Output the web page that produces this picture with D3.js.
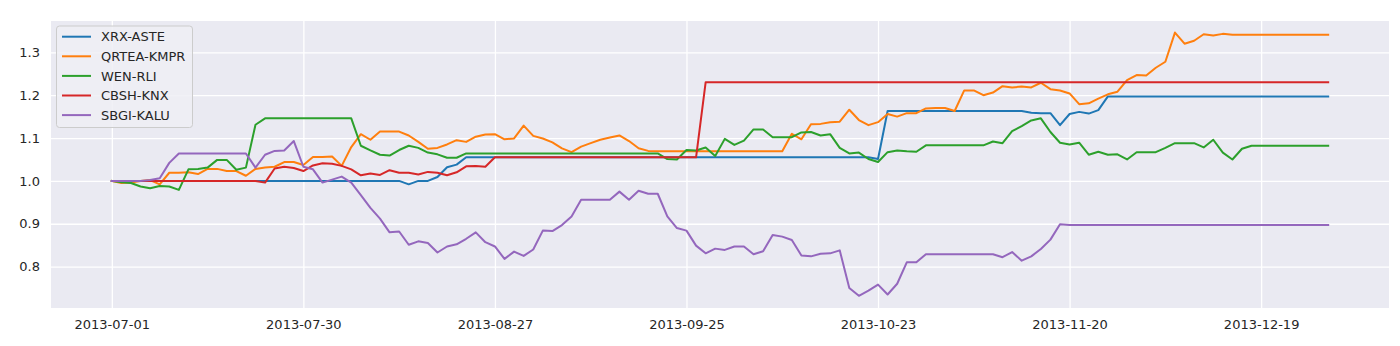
<!DOCTYPE html>
<html>
<head>
<meta charset="utf-8">
<script src="https://cdn.jsdelivr.net/npm/d3@7"></script>
<style>
  body { margin: 0; background: #ffffff; }
  svg { display: block; font-family: "DejaVu Sans", sans-serif; }
</style>
</head>
<body>
<svg id="chart" width="1400" height="346"></svg>
<script>
// ---------------- data ----------------
const seriesNames = ["XRX-ASTE", "QRTEA-KMPR", "WEN-RLI", "CBSH-KNX", "SBGI-KALU"];

const xrxAste = [
  1.000,1.000,1.000,1.000,1.000,1.000,1.000,1.000,1.000,1.000,
  1.000,1.000,1.000,1.000,1.000,1.000,1.000,1.000,1.000,1.000,
  1.000,1.000,1.000,1.000,1.000,1.000,1.000,1.000,1.000,1.000,
  1.000,0.992,1.000,1.000,1.009,1.032,1.038,1.055,1.055,1.055,
  1.055,1.055,1.055,1.055,1.055,1.055,1.055,1.055,1.055,1.055,
  1.055,1.055,1.055,1.055,1.055,1.055,1.055,1.055,1.055,1.055,
  1.055,1.055,1.055,1.055,1.055,1.055,1.055,1.055,1.055,1.055,
  1.055,1.055,1.055,1.055,1.055,1.055,1.055,1.055,1.055,1.055,
  1.051,1.163,1.163,1.163,1.163,1.163,1.163,1.163,1.163,1.163,
  1.163,1.163,1.163,1.163,1.163,1.163,1.159,1.158,1.158,1.130,
  1.156,1.161,1.157,1.165,1.197,1.197,1.197,1.197,1.197,1.197,
  1.197,1.197,1.197,1.197,1.197,1.197,1.197,1.197,1.197,1.197,
  1.197,1.197,1.197,1.197,1.197,1.197,1.197,1.197
];

const qrteaKmpr = [
  1.000,0.995,0.996,1.000,1.002,0.992,1.019,1.019,1.020,1.016,
  1.028,1.028,1.023,1.023,1.012,1.028,1.031,1.033,1.044,1.044,
  1.037,1.056,1.056,1.057,1.035,1.079,1.109,1.096,1.115,1.115,
  1.115,1.106,1.091,1.075,1.077,1.085,1.095,1.091,1.103,1.108,
  1.109,1.097,1.099,1.129,1.105,1.099,1.090,1.076,1.067,1.080,
  1.088,1.096,1.101,1.106,1.093,1.076,1.070,1.069,1.069,1.069,
  1.069,1.069,1.069,1.069,1.069,1.069,1.069,1.069,1.069,1.069,
  1.069,1.110,1.097,1.132,1.133,1.137,1.138,1.166,1.142,1.130,
  1.137,1.156,1.150,1.158,1.158,1.169,1.170,1.170,1.163,1.211,
  1.211,1.200,1.206,1.221,1.218,1.220,1.218,1.229,1.214,1.211,
  1.204,1.179,1.181,1.192,1.202,1.208,1.235,1.247,1.246,1.264,
  1.278,1.346,1.320,1.327,1.342,1.339,1.343,1.341,1.341,1.341,
  1.341,1.341,1.341,1.341,1.341,1.341,1.341,1.341
];

const wenRli = [
  1.000,0.997,0.995,0.987,0.983,0.988,0.987,0.979,1.027,1.028,
  1.031,1.049,1.049,1.026,1.031,1.131,1.146,1.146,1.146,1.146,
  1.146,1.146,1.146,1.146,1.146,1.146,1.082,1.071,1.061,1.059,
  1.072,1.082,1.077,1.066,1.062,1.054,1.054,1.064,1.064,1.064,
  1.064,1.064,1.064,1.064,1.064,1.064,1.064,1.064,1.064,1.064,
  1.064,1.064,1.064,1.064,1.064,1.064,1.064,1.064,1.051,1.050,
  1.072,1.071,1.078,1.058,1.098,1.084,1.094,1.120,1.120,1.102,
  1.102,1.102,1.113,1.114,1.106,1.109,1.077,1.064,1.066,1.051,
  1.044,1.067,1.071,1.069,1.068,1.083,1.083,1.083,1.083,1.083,
  1.083,1.083,1.092,1.088,1.116,1.128,1.141,1.146,1.114,1.089,
  1.085,1.089,1.061,1.068,1.061,1.062,1.050,1.067,1.067,1.067,
  1.077,1.088,1.088,1.088,1.078,1.096,1.066,1.050,1.075,1.082,
  1.082,1.082,1.082,1.082,1.082,1.082,1.082,1.082
];

const cbshKnx = [
  1.000,1.000,1.000,1.000,1.000,1.000,1.000,1.000,1.000,1.000,
  1.000,1.000,1.000,1.000,1.000,1.000,0.996,1.029,1.033,1.030,
  1.023,1.036,1.041,1.040,1.035,1.027,1.013,1.017,1.014,1.025,
  1.019,1.019,1.015,1.021,1.019,1.013,1.020,1.034,1.035,1.033,
  1.055,1.055,1.055,1.055,1.055,1.055,1.055,1.055,1.055,1.055,
  1.055,1.055,1.055,1.055,1.055,1.055,1.055,1.055,1.055,1.055,
  1.055,1.055,1.230,1.230,1.230,1.230,1.230,1.230,1.230,1.230,
  1.230,1.230,1.230,1.230,1.230,1.230,1.230,1.230,1.230,1.230,
  1.230,1.230,1.230,1.230,1.230,1.230,1.230,1.230,1.230,1.230,
  1.230,1.230,1.230,1.230,1.230,1.230,1.230,1.230,1.230,1.230,
  1.230,1.230,1.230,1.230,1.230,1.230,1.230,1.230,1.230,1.230,
  1.230,1.230,1.230,1.230,1.230,1.230,1.230,1.230,1.230,1.230,
  1.230,1.230,1.230,1.230,1.230,1.230,1.230,1.230
];

const sbgiKalu = [
  1.000,1.000,1.000,1.000,1.002,1.006,1.042,1.064,1.064,1.064,
  1.064,1.064,1.064,1.064,1.064,1.031,1.061,1.070,1.071,1.093,
  1.033,1.027,0.996,1.003,1.010,0.996,0.967,0.937,0.912,0.880,
  0.882,0.851,0.859,0.855,0.833,0.847,0.852,0.865,0.880,0.857,
  0.847,0.818,0.835,0.825,0.840,0.884,0.883,0.897,0.917,0.956,
  0.956,0.956,0.956,0.975,0.956,0.977,0.970,0.970,0.917,0.890,
  0.884,0.849,0.831,0.842,0.839,0.847,0.847,0.829,0.836,0.874,
  0.870,0.862,0.826,0.824,0.830,0.831,0.838,0.750,0.732,0.744,
  0.758,0.735,0.760,0.810,0.810,0.829,0.829,0.829,0.829,0.829,
  0.829,0.829,0.829,0.822,0.834,0.814,0.824,0.841,0.863,0.899,
  0.897,0.897,0.897,0.897,0.897,0.897,0.897,0.897,0.897,0.897,
  0.897,0.897,0.897,0.897,0.897,0.897,0.897,0.897,0.897,0.897,
  0.897,0.897,0.897,0.897,0.897,0.897,0.897,0.897
];

// x axis: trading-day index, labelled every 20 sessions
const xTickIndex = [0, 20, 40, 60, 80, 100, 120];
const xTickLabels = ["2013-07-01", "2013-07-30", "2013-08-27", "2013-09-25",
                     "2013-10-23", "2013-11-20", "2013-12-19"];
const yTickValues = [0.8, 0.9, 1.0, 1.1, 1.2, 1.3];

// ---------------- layout / style ----------------
const seriesValues = [xrxAste, qrteaKmpr, wenRli, cbshKnx, sbgiKalu];
const colors = ["#1f77b4", "#ff7f0e", "#2ca02c", "#d62728", "#9467bd"];

const plot = { left: 51, right: 1389, top: 21, bottom: 308 };
const svg = d3.select("#chart");

const n = xrxAste.length;
const x = d3.scaleLinear()
  .domain([-(n - 1) * 0.05, (n - 1) * 1.05])
  .range([plot.left, plot.right]);
const y = d3.scaleLinear()
  .domain([0.7035, 1.373])
  .range([plot.bottom, plot.top]);

// background
svg.append("rect")
  .attr("x", plot.left).attr("y", plot.top)
  .attr("width", plot.right - plot.left).attr("height", plot.bottom - plot.top)
  .attr("fill", "#eaeaf2");

// x axis + vertical grid
const gx = svg.append("g")
  .attr("transform", `translate(0,${plot.bottom})`)
  .call(d3.axisBottom(x)
    .tickValues(xTickIndex)
    .tickFormat((d, i) => xTickLabels[i])
    .tickSize(-(plot.bottom - plot.top))
    .tickPadding(12));
gx.select(".domain").remove();
gx.selectAll(".tick line").attr("stroke", "#ffffff").attr("stroke-width", 1.3);
gx.selectAll(".tick text").attr("font-size", 13).attr("fill", "#262626")
  .attr("font-family", "DejaVu Sans, sans-serif");

// y axis + horizontal grid
const gy = svg.append("g")
  .attr("transform", `translate(${plot.left},0)`)
  .call(d3.axisLeft(y)
    .tickValues(yTickValues)
    .tickFormat(d3.format(".1f"))
    .tickSize(-(plot.right - plot.left))
    .tickPadding(11));
gy.select(".domain").remove();
gy.selectAll(".tick line").attr("stroke", "#ffffff").attr("stroke-width", 1.3);
gy.selectAll(".tick text").attr("font-size", 13).attr("fill", "#262626")
  .attr("font-family", "DejaVu Sans, sans-serif");

// lines
const line = d3.line().x((d, i) => x(i)).y(d => y(d));
svg.append("g").selectAll("path")
  .data(seriesValues)
  .join("path")
  .attr("d", line)
  .attr("fill", "none")
  .attr("stroke", (d, i) => colors[i])
  .attr("stroke-width", 2)
  .attr("stroke-linejoin", "round")
  .attr("stroke-linecap", "square");

// legend
const lg = svg.append("g");
lg.append("rect")
  .attr("x", 56.5).attr("y", 26).attr("width", 136).attr("height", 101.5)
  .attr("rx", 3).attr("ry", 3)
  .attr("fill", "#eeeef4").attr("fill-opacity", 0.85)
  .attr("stroke", "#cccccc").attr("stroke-width", 1);
const rows = lg.selectAll("g.row")
  .data(seriesNames)
  .join("g")
  .attr("class", "row")
  .attr("transform", (d, i) => `translate(0,${36.7 + i * 19.6})`);
rows.append("line")
  .attr("x1", 62).attr("x2", 91).attr("y1", 0).attr("y2", 0)
  .attr("stroke", (d, i) => colors[i]).attr("stroke-width", 2);
rows.append("text")
  .attr("x", 101).attr("y", 0).attr("dy", "0.36em")
  .attr("font-size", 13).attr("fill", "#262626")
  .text(d => d);
</script>
</body>
</html>
